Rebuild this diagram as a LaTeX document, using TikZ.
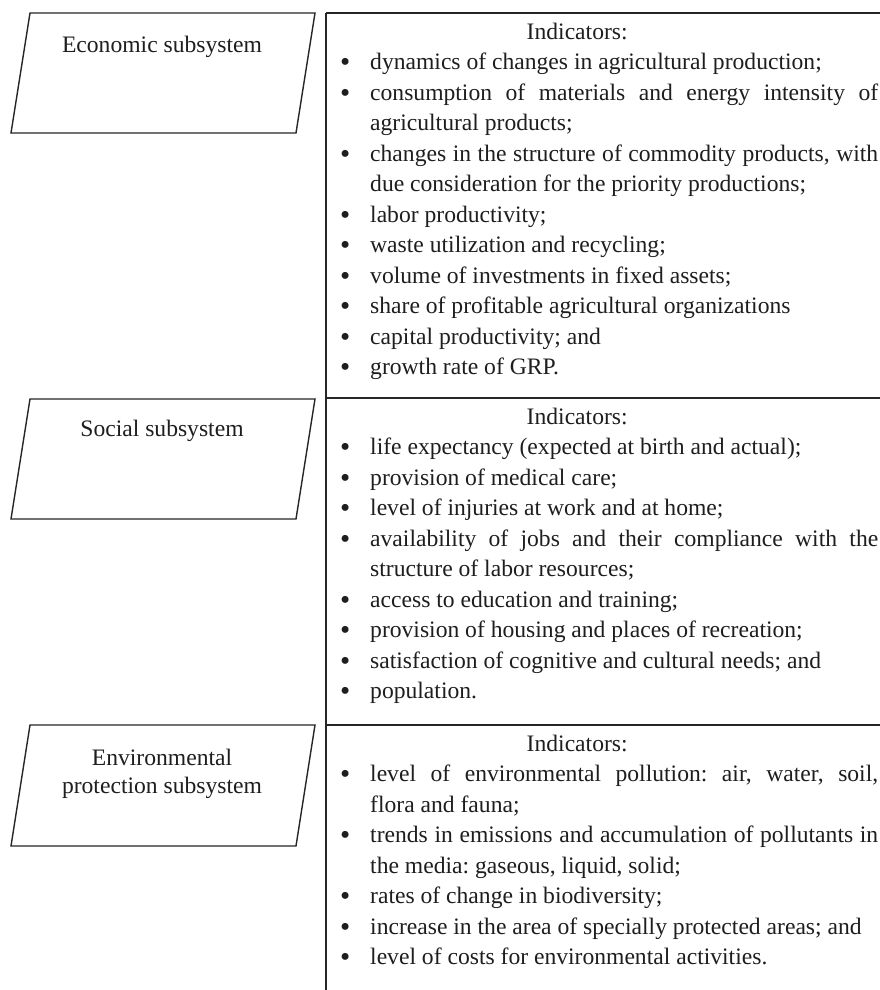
\documentclass[tikz,border=0pt]{standalone}
\usepackage{fontspec}
\setmainfont{Liberation Serif}
\definecolor{linegray}{HTML}{262626}
\definecolor{textgray}{HTML}{1E1E1E}
\newcommand\bulmark{\makebox[30pt][l]{\raisebox{-2pt}{\fontsize{29}{29}\selectfont\textbullet}}}
\newcommand\justline[1]{\makebox[508pt][s]{#1}}
\newcommand\contind{\hspace*{30pt}}
\newcommand\indhead{\makebox[474pt][c]{\rule{0pt}{22pt}Indicators:}}
\begin{document}
\frenchspacing
\begin{tikzpicture}[x=1pt,y=-1pt,
  frame/.style={draw=linegray,line width=1.4pt},
  para/.style={draw=linegray,line width=1.4pt,line join=miter},
  cell/.style={inner sep=0pt,align=left,text=textgray,anchor=north west,
    font=\fontsize{23.6}{30.5}\selectfont\frenchspacing},
  plabel/.style={inner sep=0pt,align=center,text=textgray,
    font=\fontsize{23.6}{28}\selectfont}]
\useasboundingbox[fill=white] (0,0) rectangle (880,990);
% table grid
\coordinate (vt) at (326,13);
\coordinate (vb) at (326,990);
\coordinate (h1l) at (326,13);  \coordinate (h1r) at (880,13);
\coordinate (h2l) at (326,398); \coordinate (h2r) at (880,398);
\coordinate (h3l) at (326,725); \coordinate (h3r) at (880,725);
\draw[frame] (vt) -- (vb);
\draw[frame] (h1l) -- (h1r);
\draw[frame] (h2l) -- (h2r);
\draw[frame] (h3l) -- (h3r);
% parallelograms
\coordinate (p1a) at (30,13);  \coordinate (p1b) at (315,13);
\coordinate (p1c) at (296,133); \coordinate (p1d) at (11,133);
\coordinate (p2a) at (30,399); \coordinate (p2b) at (315,399);
\coordinate (p2c) at (296,519); \coordinate (p2d) at (11,519);
\coordinate (p3a) at (30,725); \coordinate (p3b) at (315,725);
\coordinate (p3c) at (296,846); \coordinate (p3d) at (11,846);
\draw[para] (p1a) -- (p1b) -- (p1c) -- (p1d) -- cycle;
\draw[para] (p2a) -- (p2b) -- (p2c) -- (p2d) -- cycle;
\draw[para] (p3a) -- (p3b) -- (p3c) -- (p3d) -- cycle;
% labels
\node[plabel,anchor=base] (econlab) at (162,52.5) {Economic subsystem};
\node[plabel,anchor=base] (soclab) at (162,436.5) {Social subsystem};
\node[plabel,anchor=north] (envlab) at (162,743.5) {\rule{0pt}{22pt}Environmental\\protection subsystem};
% cells
\node[cell] (econ) at (340,17) {\indhead\\
\bulmark dynamics of changes in agricultural production;\\
\bulmark\justline{consumption of materials and energy intensity of}\\
\contind agricultural products;\\
\bulmark\justline{changes in the structure of commodity products, with}\\
\contind due consideration for the priority productions;\\
\bulmark labor productivity;\\
\bulmark waste utilization and recycling;\\
\bulmark volume of investments in fixed assets;\\
\bulmark share of profitable agricultural organizations\\
\bulmark capital productivity; and\\
\bulmark growth rate of GRP.};
\node[cell] (soc) at (340,402) {\indhead\\
\bulmark life expectancy (expected at birth and actual);\\
\bulmark provision of medical care;\\
\bulmark level of injuries at work and at home;\\
\bulmark\justline{availability of jobs and their compliance with the}\\
\contind structure of labor resources;\\
\bulmark access to education and training;\\
\bulmark provision of housing and places of recreation;\\
\bulmark satisfaction of cognitive and cultural needs; and\\
\bulmark population.};
\node[cell] (env) at (340,729) {\indhead\\
\bulmark\justline{level of environmental pollution: air, water, soil,}\\
\contind flora and fauna;\\
\bulmark\justline{trends in emissions and accumulation of pollutants in}\\
\contind the media: gaseous, liquid, solid;\\
\bulmark rates of change in biodiversity;\\
\bulmark increase in the area of specially protected areas; and\\
\bulmark level of costs for environmental activities.};
\end{tikzpicture}
\end{document}
